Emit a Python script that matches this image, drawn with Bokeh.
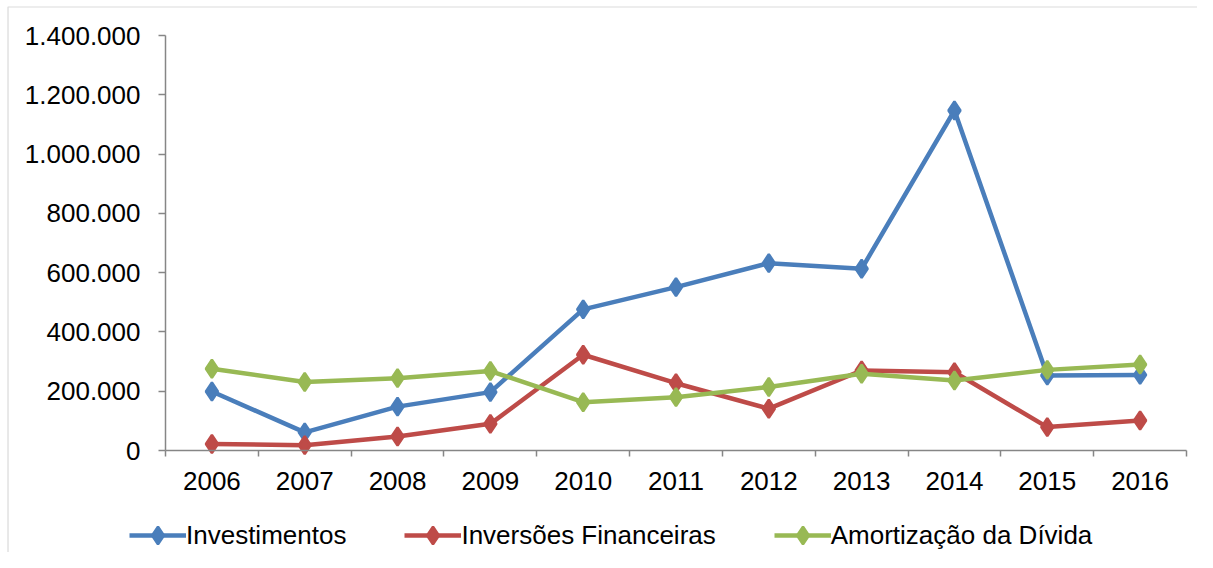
from bokeh.plotting import figure
from bokeh.models import (Range1d, FixedTicker, CustomJSTickFormatter, Legend, LegendItem, BoxAnnotation)
from bokeh.embed import file_html
from bokeh.resources import INLINE

years = ["2006", "2007", "2008", "2009", "2010", "2011", "2012", "2013", "2014", "2015", "2016"]
investimentos = [199000, 61000, 148000, 197000, 476000, 551000, 632000, 613000, 1147000, 253000, 255000]
inversoes = [22000, 18000, 47000, 90000, 323000, 227000, 141000, 270000, 264000, 79000, 101000]
amortizacao = [276000, 231000, 244000, 268000, 163000, 180000, 214000, 259000, 236000, 272000, 290000]
series_names = ["Investimentos", "Inversões Financeiras", "Amortização da Dívida"]
y_ticks = [0, 200000, 400000, 600000, 800000, 1000000, 1200000, 1400000]
y_max = 1400000

colors = ["#4A7EBB", "#BE4B48", "#98B954"]
FONT = "Liberation Sans"
FS = "26px"
AXIS_COL = "#868686"

W, H = 1197, 552
# plot-area placement in pixels (the frame covers the whole canvas; axes are pinned)
PL, PR, PT, PB = 165, 1186, 35, 450

n = len(years)
x = list(range(n))
ppx = (PR - PL) / n                 # pixels per category
ppy = (PB - PT) / y_max             # pixels per unit
x0 = -0.5 - PL / ppx
x1 = x0 + W / ppx
y1 = y_max + PT / ppy
y0 = y1 - H / ppy

p = figure(width=W, height=H, output_backend="svg", toolbar_location=None,
           x_range=Range1d(x0, x1), y_range=Range1d(y0, y1),
           min_border=0, min_border_left=0, min_border_right=0,
           min_border_top=0, min_border_bottom=0)
p.outline_line_color = None
p.grid.visible = False
p.background_fill_color = "white"
p.border_fill_color = "white"

# x axis pinned at y=0
p.xaxis.fixed_location = 0
p.xaxis.bounds = (-0.5, n - 0.5)
p.xaxis.ticker = FixedTicker(ticks=x, minor_ticks=[i - 0.5 for i in range(n + 1)])
p.xaxis.major_label_overrides = {i: yv for i, yv in enumerate(years)}
p.xaxis.major_tick_out = 0
p.xaxis.major_tick_in = 0
p.xaxis.minor_tick_out = 6
p.xaxis.minor_tick_in = 0
p.xaxis.minor_tick_line_color = AXIS_COL
p.xaxis.minor_tick_line_width = 1.5
p.xaxis.axis_line_color = AXIS_COL
p.xaxis.axis_line_width = 1.5
p.xaxis.major_label_text_font = FONT
p.xaxis.major_label_text_font_size = FS
p.xaxis.major_label_text_color = "black"
p.xaxis.major_label_standoff = 15

# y axis pinned at the left edge of the plot area
p.yaxis.fixed_location = -0.5
p.yaxis.bounds = (0, y_max)
p.yaxis.ticker = FixedTicker(ticks=y_ticks)
p.yaxis.formatter = CustomJSTickFormatter(code="""
return Math.round(tick).toString().replace(/\\B(?=(\\d{3})+(?!\\d))/g, '.');
""")
p.yaxis.major_tick_out = 7
p.yaxis.major_tick_in = 0
p.yaxis.minor_tick_line_color = None
p.yaxis.major_tick_line_color = AXIS_COL
p.yaxis.major_tick_line_width = 1.5
p.yaxis.axis_line_color = AXIS_COL
p.yaxis.axis_line_width = 1.5
p.yaxis.major_label_text_font = FONT
p.yaxis.major_label_text_font_size = FS
p.yaxis.major_label_text_color = "black"
p.yaxis.major_label_standoff = 18

items = []
for name, vals, col in zip(series_names, [investimentos, inversoes, amortizacao], colors):
    r1 = p.line(x, vals, line_color=col, line_width=4.5)
    r2 = p.scatter(x, vals, marker="diamond", size=18,
                   fill_color=col, line_color=col, line_width=2.5)
    items.append(LegendItem(label=name, renderers=[r1, r2]))

legend = Legend(items=items, orientation="horizontal", location=(129, -5),
                border_line_color=None, background_fill_alpha=0,
                label_text_font=FONT, label_text_font_size=FS, label_text_color="black",
                glyph_width=57, glyph_height=44, label_standoff=0, spacing=58,
                padding=0, margin=0, label_height=24)
p.add_layout(legend, "center")

# outer chart border (left and top edges visible, like the reference)
border = BoxAnnotation(left=x0 + 7.5 / ppx, right=x1 + 50 / ppx,
                       top=y1 - 6.5 / ppy, bottom=y0 - 50 / ppy,
                       fill_alpha=0, line_color=AXIS_COL, line_width=1.2)
p.add_layout(border)

open("out.html", "w").write(file_html(p, INLINE))
